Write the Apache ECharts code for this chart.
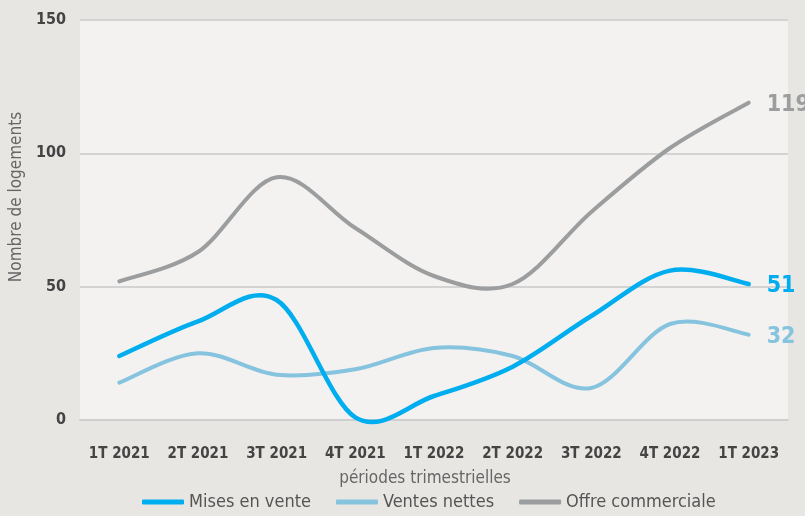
<html style="width: 100%; height: 100%">
<head>
    <meta charset="utf-8">
    <script src="https://cdn.jsdelivr.net/npm/echarts@6/dist/echarts.min.js"></script>
</head>
<body style="width: 100%; height: 100%; margin: 0; background: #e7e6e3">
<div id="container" style="width: 805px; height: 516px"></div>

<script type="text/javascript">
    var periodes = ['1T 2021', '2T 2021', '3T 2021', '4T 2021', '1T 2022', '2T 2022', '3T 2022', '4T 2022', '1T 2023'];
    var misesEnVente = [24, 37, 45, 1, 9, 20, 39, 56, 51];
    var ventesNettes = [14, 25, 17, 19, 27, 24, 12, 36, 32];
    var offreCommerciale = [52, 63, 91, 72, 54, 51, 78, 102, 119];

    var font = "'Liberation Sans Narrow', 'DejaVu Sans Condensed', 'Noto Sans', sans-serif";
    var colors = {mises: '#00aeef', ventes: '#85c3df', offre: '#9b9d9e'};

    // line series: only carries the legend entry and the end label
    function serie(name, data, color) {
        return {
            name: name,
            type: 'line',
            showSymbol: false,
            silent: true,
            data: data,
            lineStyle: {width: 0, color: color},
            itemStyle: {color: color},
            endLabel: {
                show: true,
                formatter: '{c}',
                distance: 18,
                offset: [0, 2],
                color: color,
                fontFamily: font,
                fontWeight: 'bold',
                fontSize: 23
            }
        };
    }

    // curve drawn as a cardinal spline through the points (like the original spreadsheet)
    function courbe(data, color, width) {
        return {
            type: 'custom',
            silent: true,
            z: 3,
            data: [[0, data[0]]],
            renderItem: function (params, api) {
                var pts = data.map(function (v, i) { return api.coord([i, v]); });
                var d = 'M' + pts[0][0] + ' ' + pts[0][1];
                for (var i = 0; i < pts.length - 1; i++) {
                    var p0 = pts[i - 1] || pts[i], p1 = pts[i], p2 = pts[i + 1], p3 = pts[i + 2] || pts[i + 1];
                    d += ' C' + (p1[0] + (p2[0] - p0[0]) / 6) + ' ' + (p1[1] + (p2[1] - p0[1]) / 6) +
                        ' ' + (p2[0] - (p3[0] - p1[0]) / 6) + ' ' + (p2[1] - (p3[1] - p1[1]) / 6) +
                        ' ' + p2[0] + ' ' + p2[1];
                }
                return {
                    type: 'path',
                    shape: {pathData: d},
                    style: {fill: 'none', stroke: color, lineWidth: width, lineCap: 'round', lineJoin: 'round'}
                };
            }
        };
    }

    var dom = document.getElementById("container");
    var myChart = echarts.init(dom);
    var option = {
        backgroundColor: '#e7e6e3',
        textStyle: {fontFamily: font},
        grid: {
            left: 77, right: 17, top: 20, bottom: 96,
            show: true, backgroundColor: '#f3f2f0', borderWidth: 0
        },
        legend: {
            data: ['Mises en vente', 'Ventes nettes', 'Offre commerciale'],
            bottom: 0,
            left: 137,
            icon: 'roundRect',
            itemWidth: 42,
            itemHeight: 5,
            itemGap: 25,
            textStyle: {color: '#555', fontSize: 18, fontFamily: font}
        },
        xAxis: {
            type: 'category',
            data: periodes,
            name: 'périodes trimestrielles',
            nameLocation: 'middle',
            nameGap: 50,
            nameTextStyle: {color: '#666', fontSize: 17, fontFamily: font, padding: [0, 18, 0, 0]},
            axisLine: {lineStyle: {color: '#cfcfcf', width: 2}},
            axisTick: {show: false},
            axisLabel: {interval: 0, color: '#444', fontWeight: 'bold', fontSize: 15, margin: 27, fontFamily: font}
        },
        yAxis: {
            type: 'value',
            min: 0,
            max: 150,
            interval: 50,
            name: 'Nombre de logements',
            nameLocation: 'middle',
            nameGap: 54,
            nameTextStyle: {color: '#666', fontSize: 17, fontFamily: font, padding: [0, 0, 0, 46]},
            splitLine: {lineStyle: {color: '#d3d3d3', width: 2}},
            axisLabel: {color: '#444', fontWeight: 'bold', fontSize: 16, margin: 14, fontFamily: font}
        },
        series: [
            serie('Mises en vente', misesEnVente, colors.mises),
            serie('Ventes nettes', ventesNettes, colors.ventes),
            serie('Offre commerciale', offreCommerciale, colors.offre),
            courbe(ventesNettes, colors.ventes, 4),
            courbe(offreCommerciale, colors.offre, 4),
            courbe(misesEnVente, colors.mises, 4.5)
        ]
    };
    myChart.setOption(option);
</script>
</body>
</html>
